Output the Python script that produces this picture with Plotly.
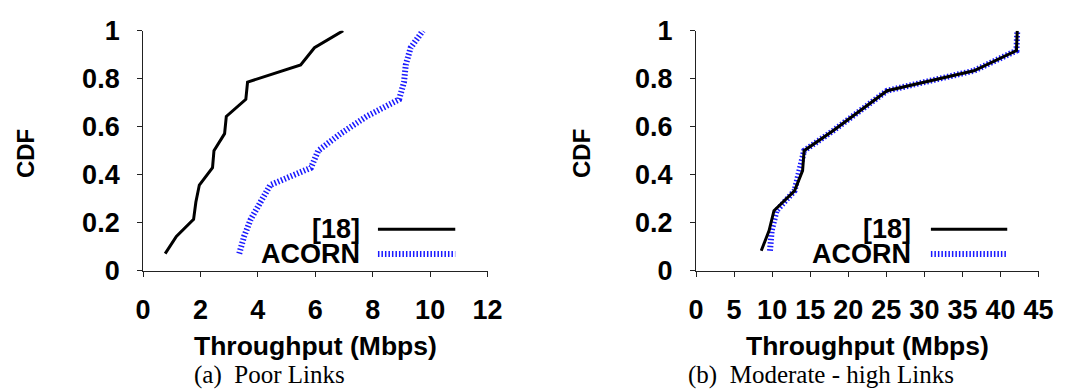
import plotly.graph_objects as go

# ---- data ----
poor_cdf = [0.071, 0.143, 0.214, 0.286, 0.357, 0.429, 0.5, 0.571, 0.643, 0.714, 0.786, 0.857, 0.929, 1.0]
poor_ref18 = [0.77, 1.16, 1.76, 1.84, 1.96, 2.42, 2.47, 2.84, 2.90, 3.58, 3.64, 5.49, 5.97, 6.97]
poor_acorn = [3.35, 3.52, 3.75, 4.09, 4.43, 5.85, 6.10, 6.88, 7.79, 8.92, 9.09, 9.15, 9.32, 9.75]

mod_cdf = [0.083, 0.167, 0.25, 0.333, 0.417, 0.5, 0.583, 0.667, 0.75, 0.833, 0.917, 1.0]
mod_ref18 = [8.57, 9.60, 10.24, 12.94, 14.0, 14.2, 18.0, 21.5, 25.1, 36.5, 42.1, 42.2]
mod_acorn = [9.72, 9.94, 10.58, 12.94, 13.58, 14.2, 18.0, 21.5, 25.1, 36.5, 42.1, 42.2]

series_names = ["[18]", "ACORN"]
x_title = "Throughput (Mbps)"
y_title = "CDF"
captions = ["(a)  Poor Links", "(b)  Moderate - high Links"]

# ---- styles ----
W, H = 1079, 390
BLUE = "#1a1aff"
black_line = dict(color="black", width=3)
blue_line = dict(color=BLUE, width=6, dash="1.5px,2px")
SANS = "Liberation Sans, Arial, sans-serif"
bold = dict(family=SANS, size=27, color="black", weight="bold")

fig = go.Figure()
# left panel
fig.add_trace(go.Scatter(x=poor_acorn, y=poor_cdf, mode="lines", line=blue_line,
                         xaxis="x", yaxis="y", showlegend=False))
fig.add_trace(go.Scatter(x=poor_ref18, y=poor_cdf, mode="lines", line=black_line,
                         xaxis="x", yaxis="y", showlegend=False))
# right panel (black drawn over blue)
fig.add_trace(go.Scatter(x=mod_acorn, y=mod_cdf, mode="lines", line=blue_line,
                         xaxis="x2", yaxis="y2", showlegend=False))
fig.add_trace(go.Scatter(x=mod_ref18, y=mod_cdf, mode="lines", line=black_line,
                         xaxis="x2", yaxis="y2", showlegend=False))

def px_x(p):
    return p / W

def px_y(p):
    return 1 - p / H

ydom = [px_y(277), px_y(17)]
common_x = dict(showline=True, linecolor="#222", linewidth=1, ticks="outside", ticklen=5,
                tickcolor="#222", tickwidth=1, showgrid=False, zeroline=False,
                tickfont=bold, ticklabelstandoff=10)
common_y = dict(showline=True, linecolor="#222", linewidth=1, ticks="outside", ticklen=5,
                tickcolor="#222", tickwidth=1, showgrid=False, zeroline=False,
                tickfont=bold, range=[0, 1], dtick=0.2, domain=ydom, ticklabelstandoff=12)

fig.update_layout(
    width=W, height=H, margin=dict(l=0, r=0, t=0, b=0),
    plot_bgcolor="white", paper_bgcolor="white", showlegend=False,
    xaxis=dict(common_x, domain=[px_x(138), px_x(490)], range=[0, 12], dtick=2, anchor="y"),
    yaxis=dict(common_y, anchor="x"),
    xaxis2=dict(common_x, domain=[px_x(703), px_x(1053)], range=[0, 45], dtick=5, anchor="y2"),
    yaxis2=dict(common_y, anchor="x2"),
)

ann = []
title_font = dict(family=SANS, size=26.5, color="black", weight="bold")
cap_font = dict(family="Liberation Serif, Times New Roman, serif", size=25, color="black")
for cx in (314, 878):
    ann.append(dict(text=x_title, x=px_x(cx), y=px_y(359), xref="paper", yref="paper",
                    xanchor="center", yanchor="middle", showarrow=False, font=title_font))
for cx in (18, 586):
    ann.append(dict(text=y_title, x=px_x(cx), y=px_y(150), xref="paper", yref="paper",
                    xanchor="center", yanchor="middle", textangle=-90, showarrow=False,
                    font=dict(title_font, size=24)))
for lx, txt in zip((188, 693), captions):
    ann.append(dict(text=txt, x=px_x(lx), y=px_y(390), xref="paper", yref="paper",
                    xanchor="left", yanchor="middle", showarrow=False, font=cap_font))

# custom legends: text on the left, line sample on the right
legend_font = dict(family=SANS, size=27, color="black", weight="bold")
shapes = []
for text_right, l0, l1 in ((362, 378, 457), (925, 943, 1021)):
    for name, ly, style in ((series_names[0], 232, black_line), (series_names[1], 259, blue_line)):
        ann.append(dict(text=name, x=px_x(text_right), y=px_y(ly), xref="paper", yref="paper",
                        xanchor="right", yanchor="middle", showarrow=False, font=legend_font))
        shapes.append(dict(type="line", xref="paper", yref="paper",
                           x0=px_x(l0), x1=px_x(l1), y0=px_y(ly), y1=px_y(ly), line=style))

fig.update_layout(annotations=ann, shapes=shapes)
fig.write_html("out.html")
